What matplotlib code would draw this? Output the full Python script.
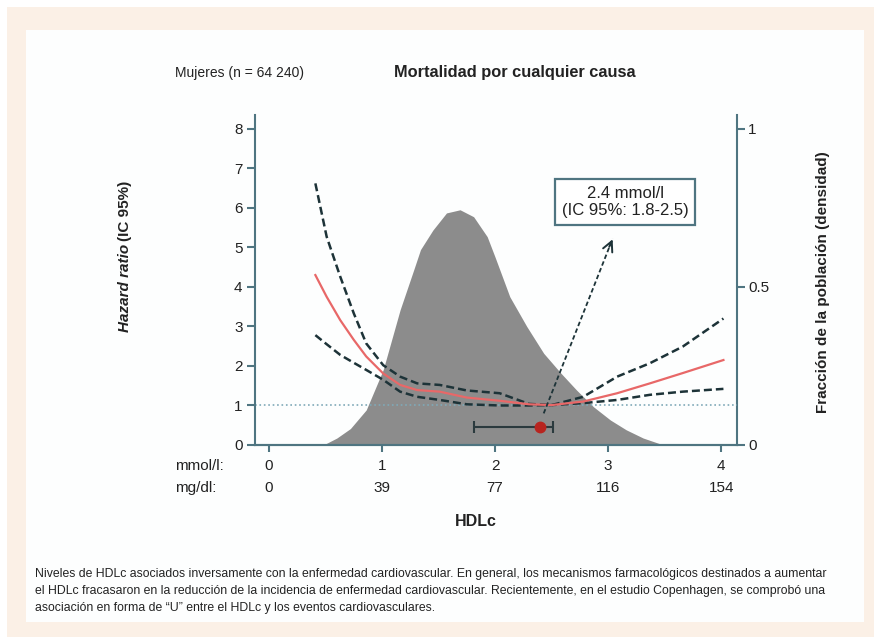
import numpy as np
import matplotlib
matplotlib.use('Agg')
import matplotlib.pyplot as plt
from matplotlib.patches import Rectangle
from matplotlib.transforms import blended_transform_factory

plt.rcParams['font.family'] = ['Liberation Sans', 'DejaVu Sans']

# datos
hdl_x = [0.41, 0.51, 0.63, 0.75, 0.86, 1.01, 1.16, 1.31, 1.51, 1.75, 2.04, 2.30, 2.50, 2.78, 3.08, 3.37, 3.66, 4.02]
hr = [4.30, 3.75, 3.16, 2.66, 2.24, 1.81, 1.52, 1.39, 1.35, 1.20, 1.12, 1.03, 1.01, 1.10, 1.31, 1.56, 1.82, 2.15]
hr_upper = [6.62, 5.27, 4.26, 3.33, 2.57, 2.02, 1.73, 1.56, 1.52, 1.38, 1.31, 1.04, 1.01, 1.22, 1.73, 2.07, 2.49, 3.20]
hr_lower = [2.78, 2.55, 2.28, 2.08, 1.90, 1.65, 1.35, 1.22, 1.14, 1.03, 1.00, 1.00, 1.01, 1.06, 1.14, 1.27, 1.35, 1.42]

dens_x = [0.48, 0.60, 0.72, 0.86, 1.01, 1.16, 1.28, 1.34, 1.45, 1.57, 1.69, 1.81, 1.93, 2.00,
          2.13, 2.28, 2.43, 2.58, 2.72, 2.87, 3.02, 3.16, 3.31, 3.49]
dens_y = [0, 0.022, 0.052, 0.111, 0.238, 0.428, 0.554, 0.618, 0.680, 0.734, 0.744, 0.722, 0.659, 0.594,
          0.469, 0.375, 0.290, 0.228, 0.174, 0.121, 0.079, 0.048, 0.022, 0]

hdl_opt = 2.40
ci_low, ci_high = 1.81, 2.51

mmol_ticks = [0, 1, 2, 3, 4]
mgdl_labels = ['0', '39', '77', '116', '154']

spine_c = '#4f7581'
dark = '#1d3338'
txt_c = '#222222'

W, H = 874, 637
fig = plt.figure(figsize=(W / 100, H / 100), dpi=100)
fig.patch.set_facecolor('white')


def fx(px):
    return px / W


def fy(py):
    return 1 - py / H


# marco beige + caja blanca
fig.patches.append(Rectangle((fx(7), 0), 1 - fx(7), fy(7), transform=fig.transFigure,
                             facecolor='#fbf0e6', edgecolor='none', zorder=-10))
fig.patches.append(Rectangle((fx(26), fy(622)), fx(864) - fx(26), fy(30) - fy(622),
                             transform=fig.transFigure, facecolor='#fdfefe', edgecolor='none', zorder=-9))

ax = fig.add_axes([fx(255), fy(445), fx(737) - fx(255), fy(115) - fy(445)])
ax2 = ax.twinx()
ax.set_zorder(ax2.get_zorder() + 1)
ax.patch.set_visible(False)

ymax = 8.35
ax.set_xlim(-0.124, 4.14)
ax.set_ylim(0, ymax)
ax2.set_ylim(0, ymax / 8)

# densidad
ax2.fill_between(dens_x, 0, dens_y, color='#8c8c8c', lw=0)

# linea de referencia
ax.axhline(1, color='#7fa9b8', ls=':', lw=1.2)

ax.plot(hdl_x, hr_upper, color=dark, lw=1.8, dashes=(3.2, 1.6))
ax.plot(hdl_x, hr_lower, color=dark, lw=1.8, dashes=(3.2, 1.6))
ax.plot(hdl_x, hr, color='#e86868', lw=1.6)

# flecha y caja
ax.plot([2.43, 3.04], [0.8, 5.22], color=dark, lw=1.3, dashes=(2.5, 1.5))
ax.annotate('', xy=(3.05, 5.27), xytext=(3.00, 4.95),
            arrowprops=dict(arrowstyle='->', color=dark, lw=1.4, mutation_scale=18))
ax.text(3.15, 6.15, '2.4 mmol/l\n(IC 95%: 1.8-2.5)', ha='center', va='center', fontsize=12,
        color=txt_c, linespacing=1.2,
        bbox=dict(boxstyle='square,pad=0.4', facecolor='white', edgecolor=spine_c, lw=1.6))

ax.errorbar(hdl_opt, 0.46, xerr=[[hdl_opt - ci_low], [ci_high - hdl_opt]], fmt='none',
            ecolor='#2b3a3e', elinewidth=1.5, capsize=4, capthick=1.5)
ax.plot(hdl_opt, 0.46, 'o', color='#b8241f', ms=7.5, zorder=5)

# ejes
for a in (ax, ax2):
    a.spines['top'].set_visible(False)
    for s in ('left', 'right', 'bottom'):
        a.spines[s].set_color(spine_c)
        a.spines[s].set_linewidth(1.5)
ax.spines['right'].set_visible(False)
ax2.spines['left'].set_visible(False)

ax.set_yticks(range(0, 9))
ax.tick_params(axis='y', colors=spine_c, labelcolor=txt_c, labelsize=11, length=6, width=1.5, pad=3)
ax2.set_yticks([0, 0.5, 1])
ax2.set_yticklabels(['0', '0.5', '1'])
ax2.tick_params(axis='y', colors=spine_c, labelcolor=txt_c, labelsize=11, length=6, width=1.5, pad=2)
ax.set_xticks(mmol_ticks)
ax.set_xticklabels([])
ax.tick_params(axis='x', colors=spine_c, length=5, width=1.5)

tr = blended_transform_factory(ax.transData, fig.transFigure)
for m, mg in zip(mmol_ticks, mgdl_labels):
    ax.text(m, fy(466), str(m), transform=tr, ha='center', va='center', fontsize=11, color=txt_c)
    ax.text(m, fy(488), mg, transform=tr, ha='center', va='center', fontsize=11, color=txt_c)
fig.text(fx(175), fy(466), 'mmol/l:', ha='left', va='center', fontsize=11, color=txt_c)
fig.text(fx(175), fy(488), 'mg/dl:', ha='left', va='center', fontsize=11, color=txt_c)
fig.text(fx(476), fy(521), 'HDLc', ha='center', va='center', fontsize=11.5, fontweight='bold', color=txt_c)

# titulos
fig.text(fx(175), fy(73), 'Mujeres (n = 64 240)', ha='left', va='center', fontsize=10, color=txt_c)
fig.text(fx(515), fy(73), 'Mortalidad por cualquier causa', ha='center', va='center', fontsize=11.8,
         fontweight='bold', color=txt_c)

# etiquetas verticales
t1 = fig.text(fx(125), fy(332), 'Hazard ratio', rotation=90, ha='center', va='bottom', fontsize=11,
              fontweight='bold', fontstyle='italic', color=txt_c)
fig.canvas.draw()
bb = t1.get_window_extent()
fig.text(fx(125), (bb.y1 + 3) / H, '(IC 95%)', rotation=90, ha='center', va='bottom', fontsize=11,
         fontweight='bold', color=txt_c)
fig.text(fx(823), fy(282), 'Fracción de la población (densidad)', rotation=90, ha='center', va='center',
         fontsize=11, fontweight='bold', color=txt_c)

# pie de figura
caption = [
    'Niveles de HDLc asociados inversamente con la enfermedad cardiovascular. En general, los mecanismos farmacológicos destinados a aumentar',
    'el HDLc fracasaron en la reducción de la incidencia de enfermedad cardiovascular. Recientemente, en el estudio Copenhagen, se comprobó una',
    'asociación en forma de \u201cU\u201d entre el HDLc y los eventos cardiovasculares.',
]
for i, line in enumerate(caption):
    fig.text(fx(35), fy(574 + 17 * i), line, ha='left', va='center', fontsize=8.85, color=txt_c)

fig.savefig('out.png', dpi=100, facecolor=fig.get_facecolor())
